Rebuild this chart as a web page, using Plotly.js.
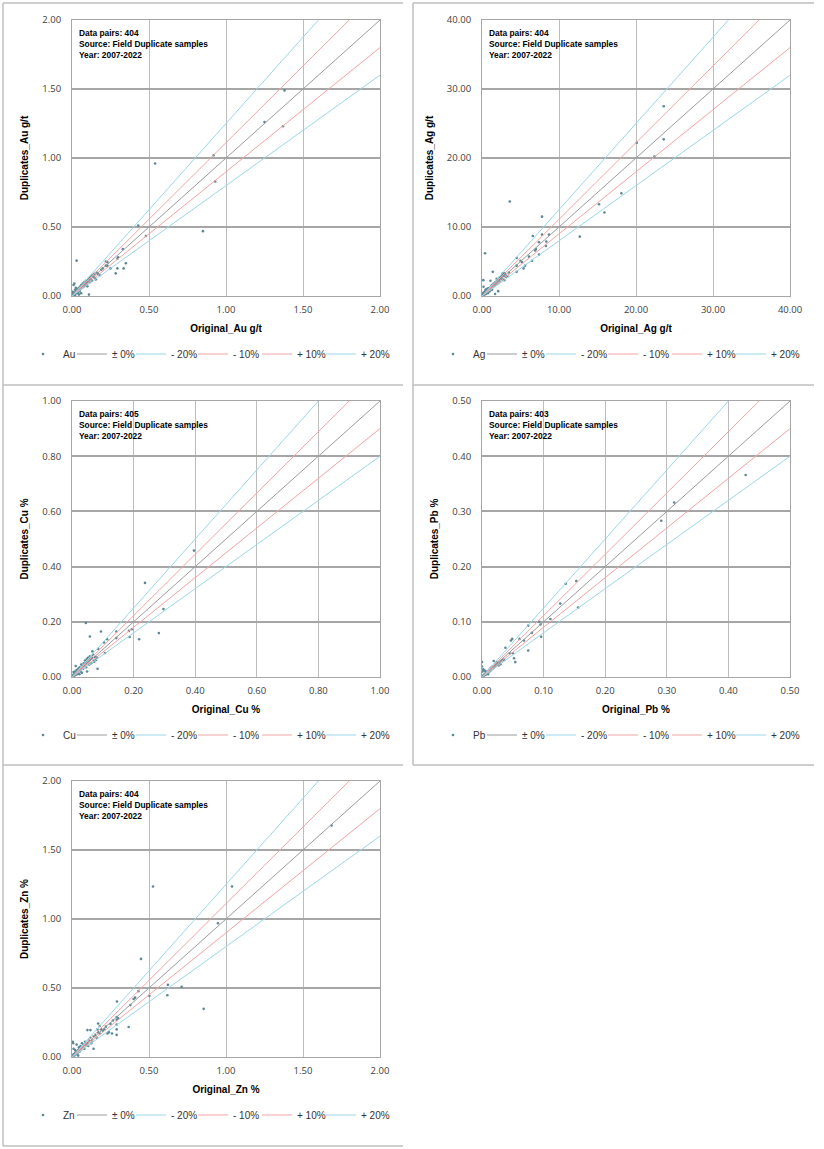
<!DOCTYPE html>
<html>
<head>
<meta charset="utf-8">
<script src="https://cdn.plot.ly/plotly-3.0.1.min.js"></script>
<style>
  html, body { margin: 0; padding: 0; background: #fff; }
  #chart { width: 824px; height: 1149px; }
</style>
</head>
<body>
<div id="chart"></div>
<script>
/* ---- data (Original vs Duplicate) ---- */
const auOriginal = [1.38, 1.25, 1.37, 0.92, 0.93, 0.54, 0.85, 0.43, 0.48, 0.33, 0.295, 0.35, 0.335, 0.295, 0.284, 0.25, 0.03, 0.11, 0.23, 0.23, 0.22, 0.22, 0.3,
  0.003, 0.005, 0.008, 0.01, 0.01, 0.012, 0.015, 0.015, 0.02, 0.02, 0.025, 0.025, 0.03, 0.03, 0.035, 0.035, 0.04, 0.04, 0.045, 0.05, 0.05, 0.055, 0.06, 0.06,
  0.065, 0.07, 0.07, 0.075, 0.08, 0.08, 0.085, 0.09, 0.09, 0.095, 0.1, 0.1, 0.105, 0.11, 0.115, 0.12, 0.12, 0.13, 0.13, 0.14, 0.145, 0.15, 0.16, 0.17, 0.18,
  0.19, 0.2, 0.155, 0.06, 0.045, 0.02, 0.005];
const auDuplicate = [1.49, 1.26, 1.23, 1.02, 0.83, 0.96, 0.47, 0.51, 0.435, 0.34, 0.27, 0.237, 0.2, 0.2, 0.164, 0.2, 0.256, 0.01, 0.245, 0.22, 0.22, 0.25, 0.28,
  0.005, 0.01, 0.004, 0.015, 0.08, 0.02, 0.01, 0.09, 0.025, 0.005, 0.03, 0.06, 0.02, 0.04, 0.03, 0.05, 0.04, 0.02, 0.06, 0.05, 0.035, 0.07, 0.055, 0.08,
  0.06, 0.075, 0.09, 0.065, 0.08, 0.1, 0.075, 0.09, 0.11, 0.08, 0.1, 0.07, 0.12, 0.13, 0.1, 0.12, 0.14, 0.15, 0.11, 0.14, 0.16, 0.13, 0.17, 0.16, 0.15,
  0.19, 0.2, 0.12, 0.02, 0.01, 0.045, 0.03];

const agOriginal = [23.6, 23.6, 20.1, 22.4, 18.1, 15.2, 15.9, 12.7, 3.6, 7.8, 0.4, 6.6, 7.8, 8.7, 7.4, 8.35, 8.3, 7.4, 6.9, 7.0, 6.1, 6.5, 5.6, 5.4, 5.2,
  5.0, 4.5, 4.5, 4.5, 2.9, 1.1, 1.4, 2.1, 2.7, 3.3, 2.3,
  0.05, 0.1, 0.15, 0.2, 0.2, 0.17, 0.3, 0.35, 0.4, 0.45, 0.5, 0.5, 0.6, 0.6, 0.7, 0.75, 0.8, 0.85, 0.9, 1.0, 1.0, 1.1, 1.2, 1.3, 1.3, 1.4, 1.5, 1.6,
  1.7, 1.7, 1.8, 1.9, 2.0, 2.0, 2.2, 2.3, 2.4, 2.5, 2.6, 2.7, 2.8, 2.9, 3.0, 3.1, 3.5, 0.25];
const agDuplicate = [27.5, 22.7, 22.2, 20.2, 14.9, 13.3, 12.1, 8.6, 13.7, 11.5, 6.2, 8.7, 8.9, 8.9, 7.8, 7.9, 7.25, 6.0, 6.6, 6.8, 5.7, 5.1, 4.4, 4.0, 4.9,
  5.1, 5.5, 4.4, 3.5, 3.3, 2.2, 3.5, 0.7, 3.3, 2.9, 2.7,
  0.1, 0.3, 0.05, 0.5, 1.35, 2.3, 0.2, 0.6, 0.4, 0.9, 0.3, 0.7, 0.5, 1.0, 0.8, 0.4, 1.1, 0.6, 0.9, 1.2, 0.7, 1.0, 1.4, 0.9, 1.6, 1.3, 1.8, 1.5,
  0.3, 2.0, 1.7, 2.5, 2.2, 1.8, 2.4, 2.1, 2.7, 2.5, 3.0, 2.4, 2.9, 2.3, 3.2, 2.8, 3.4, 0.15];

const cuOriginal = [0.396, 0.237, 0.297, 0.282, 0.218, 0.194, 0.185, 0.187, 0.144, 0.144, 0.045, 0.058, 0.094, 0.114, 0.104, 0.107, 0.085, 0.083, 0.081, 0.066, 0.049,
  0.002, 0.004, 0.005, 0.006, 0.008, 0.01, 0.01, 0.012, 0.014, 0.015, 0.016, 0.018, 0.02, 0.02, 0.022, 0.024, 0.025, 0.026, 0.028, 0.03, 0.03, 0.032,
  0.035, 0.036, 0.038, 0.04, 0.042, 0.045, 0.046, 0.048, 0.05, 0.052, 0.055, 0.056, 0.058, 0.06, 0.062, 0.065, 0.068, 0.07, 0.072, 0.075, 0.078, 0.012, 0.005];
const cuDuplicate = [0.458, 0.341, 0.246, 0.159, 0.137, 0.173, 0.167, 0.145, 0.165, 0.141, 0.196, 0.147, 0.165, 0.137, 0.125, 0.087, 0.102, 0.03, 0.071, 0.093, 0.02,
  0.003, 0.006, 0.002, 0.01, 0.005, 0.012, 0.02, 0.008, 0.016, 0.025, 0.01, 0.02, 0.015, 0.03, 0.022, 0.01, 0.035, 0.028, 0.02, 0.03, 0.045, 0.015,
  0.04, 0.03, 0.05, 0.042, 0.06, 0.05, 0.035, 0.065, 0.055, 0.07, 0.06, 0.045, 0.075, 0.065, 0.05, 0.07, 0.08, 0.06, 0.055, 0.072, 0.062, 0.04, 0.018];

const pbOriginal = [0.428, 0.312, 0.291, 0.136, 0.153, 0.127, 0.156, 0.111, 0.093, 0.095, 0.096, 0.075, 0.081, 0.075, 0.061, 0.068, 0.049, 0.047, 0.038, 0.045, 0.05,
  0.052, 0.054, 0.036, 0.03, 0.0, 0.0,
  0.001, 0.002, 0.003, 0.004, 0.005, 0.006, 0.007, 0.008, 0.009, 0.01, 0.011, 0.012, 0.013, 0.014, 0.015, 0.016, 0.017, 0.018, 0.019, 0.02, 0.021, 0.022,
  0.023, 0.024, 0.025, 0.026, 0.027, 0.028, 0.03, 0.032, 0.034, 0.001, 0.002, 0.004, 0.006, 0.01];
const pbDuplicate = [0.366, 0.316, 0.283, 0.169, 0.174, 0.133, 0.126, 0.105, 0.1, 0.095, 0.073, 0.093, 0.08, 0.048, 0.069, 0.066, 0.069, 0.066, 0.053, 0.043, 0.043,
  0.034, 0.027, 0.031, 0.023, 0.027, 0.019,
  0.002, 0.001, 0.004, 0.003, 0.006, 0.004, 0.008, 0.006, 0.01, 0.009, 0.012, 0.01, 0.015, 0.012, 0.017, 0.014, 0.019, 0.016, 0.029, 0.02, 0.018, 0.024,
  0.021, 0.027, 0.022, 0.025, 0.021, 0.026, 0.028, 0.03, 0.031, 0.01, 0.014, 0.012, 0.01, 0.005];

const znOriginal = [1.686, 1.039, 0.526, 0.948, 0.448, 0.623, 0.712, 0.619, 0.502, 0.855, 0.431, 0.41, 0.4, 0.379, 0.292, 0.368,
  0.003, 0.005, 0.008, 0.01, 0.01, 0.015, 0.02, 0.02, 0.025, 0.03, 0.035, 0.04, 0.045, 0.05, 0.05, 0.055, 0.06, 0.065, 0.07, 0.075, 0.08, 0.085, 0.09,
  0.1, 0.1, 0.105, 0.11, 0.12, 0.12, 0.125, 0.13, 0.14, 0.14, 0.15, 0.16, 0.165, 0.17, 0.17, 0.18, 0.18, 0.19, 0.2, 0.21, 0.22, 0.23, 0.24, 0.25, 0.26,
  0.266, 0.29, 0.29, 0.29, 0.29, 0.29, 0.3, 0.04, 0.03];
const znDuplicate = [1.677, 1.236, 1.236, 0.969, 0.711, 0.523, 0.508, 0.448, 0.443, 0.349, 0.477, 0.43, 0.42, 0.376, 0.402, 0.217,
  0.005, 0.11, 0.1, 0.06, 0.02, 0.01, 0.03, 0.05, 0.02, 0.04, 0.025, 0.05, 0.07, 0.04, 0.06, 0.08, 0.055, 0.1, 0.07, 0.09, 0.06, 0.11, 0.085,
  0.1, 0.195, 0.08, 0.12, 0.14, 0.195, 0.1, 0.12, 0.15, 0.06, 0.16, 0.14, 0.2, 0.18, 0.243, 0.17, 0.225, 0.2, 0.19, 0.2, 0.22, 0.17, 0.18, 0.24, 0.17,
  0.265, 0.29, 0.27, 0.236, 0.2, 0.16, 0.28, 0.01, 0.09];

const elements = ["Au", "Ag", "Cu", "Pb", "Zn"];
const units = ["g/t", "g/t", "%", "%", "%"];
const dataPairs = [404, 404, 405, 403, 404];
const axisMax = [2, 40, 1, 0.5, 2];
const axisStep = [0.5, 10, 0.2, 0.1, 0.5];
const originals = [auOriginal, agOriginal, cuOriginal, pbOriginal, znOriginal];
const duplicates = [auDuplicate, agDuplicate, cuDuplicate, pbDuplicate, znDuplicate];

const lineNames = ["± 0%", "- 20%", "- 10%", "+ 10%", "+ 20%"];
const lineFactors = [1, 1.25, 1 / 0.9, 0.9, 0.8];
const lineColors = ["#9a9a9a", "#9ad6ea", "#f2a3a3", "#f2a3a3", "#9ad6ea"];

/* ---- page geometry (px) ---- */
const W = 824;
const H = 1149;
const PLOT_W = 308;
const PLOT_H = 276;
const COL_LEFT = [72, 482];
const ROW_TOP = [20, 401, 781];
const ROW_OFFSET = [0, 381, 761];
const COL_OFFSET = [0, 410];
// where each legend entry's text starts inside a panel (marker entry first)
const LEGEND_TEXT_X = [64, 113, 172, 234, 298, 362];

const px = (v) => v / W;
const py = (v) => 1 - v / H;

const TICK_FONT = { family: "Open Sans, sans-serif", size: 9.5, color: "#404040" };
const TITLE_FONT = { family: "Liberation Sans, Arial, sans-serif", size: 10, color: "#000", weight: "bold" };
const LEGEND_FONT = { family: "Liberation Sans, Arial, sans-serif", size: 10, color: "#333" };

function legendKey(idx) {
  return idx === 1 ? "legend" : "legend" + idx;
}

function buildFigure() {
  const traces = [];
  const layout = {
    width: W,
    height: H,
    margin: { t: 0, r: 0, b: 0, l: 0 },
    paper_bgcolor: "#fff",
    plot_bgcolor: "#fff",
    showlegend: true,
    annotations: [],
    shapes: [],
  };

  elements.forEach((el, i) => {
    const col = i % 2;
    const row = Math.floor(i / 2);
    const n = i + 1;
    const xa = "xaxis" + (n > 1 ? n : "");
    const ya = "yaxis" + (n > 1 ? n : "");
    const xr = "x" + (n > 1 ? n : "");
    const yr = "y" + (n > 1 ? n : "");
    const left = COL_LEFT[col];
    const top = ROW_TOP[row];
    const max = axisMax[i];

    const axisCommon = {
      range: [0, max],
      dtick: axisStep[i],
      tick0: 0,
      tickformat: ".2f",
      tickfont: TICK_FONT,
      showline: true,
      mirror: true,
      linecolor: "#a6a6a6",
      linewidth: 1,
      zeroline: false,
      fixedrange: true,
      automargin: false,
      ticks: "",
    };

    layout[xa] = {
      ...axisCommon,
      domain: [px(left), px(left + PLOT_W)],
      anchor: yr,
      gridcolor: "#bdbdbd",
      gridwidth: 1,
      ticklabelstandoff: 5,
      title: { text: "Original_" + el + " " + units[i], font: TITLE_FONT, standoff: 9 },
    };
    layout[ya] = {
      ...axisCommon,
      domain: [py(top + PLOT_H), py(top)],
      anchor: xr,
      gridcolor: "#a6a6a6",
      gridwidth: 1.5,
      ticklabelstandoff: 8,
      title: { text: "Duplicates_" + el + " " + units[i], font: TITLE_FONT, standoff: 11 },
    };

    // one small legend per entry, so each entry sits where the report puts it
    const legendIds = LEGEND_TEXT_X.map((tx, j) => {
      const id = legendKey(i * LEGEND_TEXT_X.length + j + 1);
      layout[id] = {
        orientation: "h",
        x: px(tx - 41 + COL_OFFSET[col]),
        xanchor: "left",
        y: py(354 + ROW_OFFSET[row]),
        yanchor: "middle",
        bgcolor: "rgba(0,0,0,0)",
        font: LEGEND_FONT,
        itemwidth: 30,
      };
      return id;
    });

    traces.push({
      type: "scatter",
      mode: "markers",
      name: el,
      x: originals[i],
      y: duplicates[i],
      xaxis: xr,
      yaxis: yr,
      legend: legendIds[0],
      marker: { color: "#5b8894", size: 2.6 },
      hovertemplate: "Original: %{x:.3f}<br>Duplicate: %{y:.3f}<extra>" + el + "</extra>",
    });

    lineNames.forEach((name, k) => {
      traces.push({
        type: "scatter",
        mode: "lines",
        name,
        x: [0, max],
        y: [0, max * lineFactors[k]],
        xaxis: xr,
        yaxis: yr,
        legend: legendIds[k + 1],
        line: { color: lineColors[k], width: 1 },
        hoverinfo: "skip",
      });
    });

    layout.annotations.push({
      xref: "paper",
      yref: "paper",
      x: px(77 + COL_OFFSET[col]),
      y: py(26 + ROW_OFFSET[row]),
      xanchor: "left",
      yanchor: "top",
      align: "left",
      showarrow: false,
      text:
        "<b>Data pairs: " + dataPairs[i] + "</b><br>" +
        "<b>Source: Field Duplicate samples</b><br>" +
        "<b>Year: 2007-2022</b>",
      font: { family: "Liberation Sans, Arial, sans-serif", size: 8.4, color: "#000" },
    });
  });

  // panel frames (left / top / bottom edges, as in the report layout)
  const frame = { color: "#bfbfbf", width: 1.5 };
  const frameLines = [
    [3, 3, 3, 1146],
    [413, 3, 413, 765],
    [3, 3, 403, 3],
    [3, 385, 403, 385],
    [3, 765, 403, 765],
    [3, 1146, 403, 1146],
    [413, 3, 814, 3],
    [413, 385, 814, 385],
    [413, 765, 814, 765],
  ];
  frameLines.forEach(([x0, y0, x1, y1]) => {
    layout.shapes.push({
      type: "line",
      xref: "paper",
      yref: "paper",
      x0: px(x0),
      y0: py(y0),
      x1: px(x1),
      y1: py(y1),
      line: frame,
    });
  });

  return { traces, layout };
}

const fig = buildFigure();
Plotly.newPlot("chart", fig.traces, fig.layout, { displayModeBar: false, responsive: false });
</script>
</body>
</html>
